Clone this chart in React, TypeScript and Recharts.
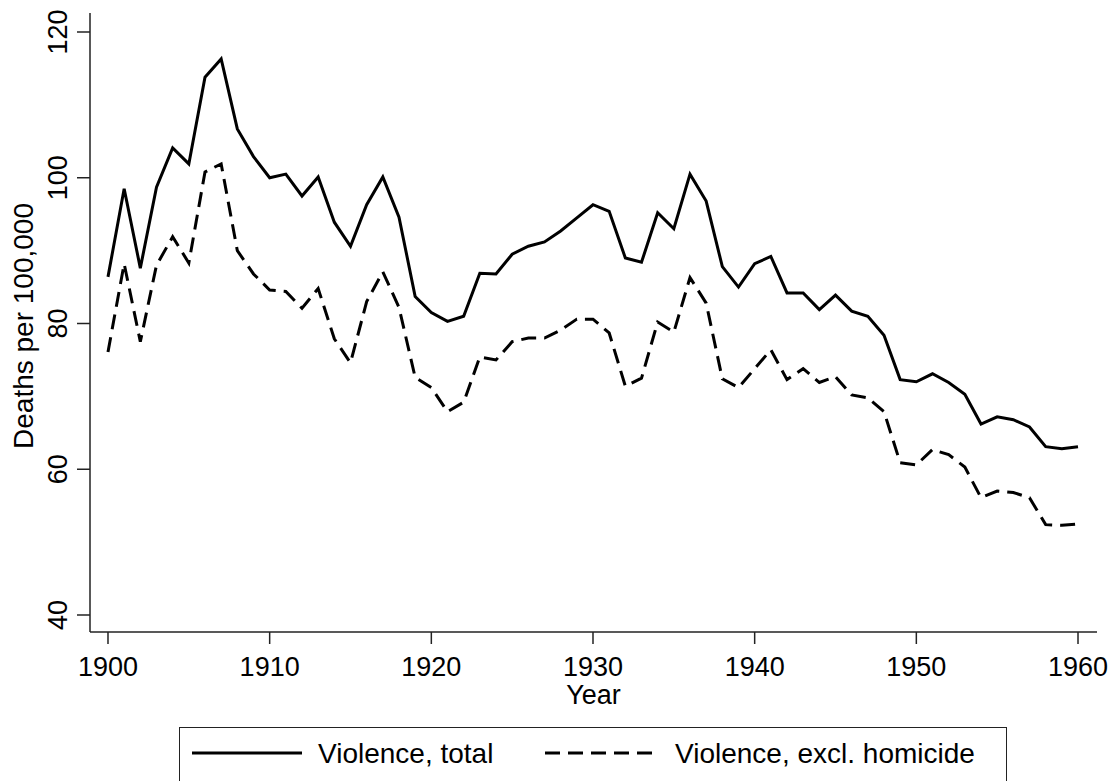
import React from 'react';
import { LineChart, Line, XAxis, YAxis, Label } from 'recharts';

const years = [
  1900, 1901, 1902, 1903, 1904, 1905, 1906, 1907, 1908, 1909,
  1910, 1911, 1912, 1913, 1914, 1915, 1916, 1917, 1918, 1919,
  1920, 1921, 1922, 1923, 1924, 1925, 1926, 1927, 1928, 1929,
  1930, 1931, 1932, 1933, 1934, 1935, 1936, 1937, 1938, 1939,
  1940, 1941, 1942, 1943, 1944, 1945, 1946, 1947, 1948, 1949,
  1950, 1951, 1952, 1953, 1954, 1955, 1956, 1957, 1958, 1959, 1960,
];

const violenceTotal = [
  86.4, 98.5, 87.6, 98.7, 104.1, 101.9, 113.8, 116.3, 106.7, 102.9,
  100.0, 100.5, 97.5, 100.1, 93.9, 90.6, 96.3, 100.1, 94.6, 83.7,
  81.5, 80.3, 81.0, 86.9, 86.8, 89.5, 90.6, 91.2, 92.7, 94.5,
  96.3, 95.4, 89.0, 88.4, 95.2, 93.0, 100.5, 96.8, 87.8, 85.0,
  88.2, 89.2, 84.2, 84.2, 81.9, 83.9, 81.7, 81.0, 78.4, 72.3,
  72.0, 73.1, 71.9, 70.3, 66.2, 67.2, 66.8, 65.8, 63.1, 62.8, 63.1,
];

const violenceExclHomicide = [
  76.1, 88.2, 77.5, 88.0, 91.9, 88.3, 100.8, 101.9, 90.0, 86.8,
  84.6, 84.4, 82.1, 84.8, 77.9, 74.6, 83.0, 87.1, 82.2, 72.6,
  71.2, 67.9, 69.2, 75.4, 75.0, 77.5, 78.0, 78.0, 79.1, 80.6,
  80.6, 78.7, 71.4, 72.5, 80.2, 78.8, 86.3, 82.8, 72.4, 71.2,
  73.8, 76.4, 72.3, 73.8, 71.9, 72.7, 70.2, 69.8, 67.9, 60.9,
  60.6, 62.7, 62.0, 60.3, 56.1, 57.0, 56.8, 56.1, 52.4, 52.3, 52.5,
];

const xTicks = [1900, 1910, 1920, 1930, 1940, 1950, 1960];
const yTicks = [40, 60, 80, 100, 120];

const data = years.map((year, i) => ({
  year,
  total: violenceTotal[i],
  excl: violenceExclHomicide[i],
}));

const FONT = '"Liberation Sans", Arial, sans-serif';
const AXIS = '#222';
const DASH = '15 8';

const XTick = (props: any) => {
  const { x, y, payload } = props;
  return (
    <text x={x} y={y + 32} textAnchor="middle" fontFamily={FONT} fontSize={27} fill="#000">
      {payload.value}
    </text>
  );
};

const YTick = (props: any) => {
  const { y, payload } = props;
  return (
    <text
      x={67}
      y={y}
      transform={`rotate(-90 67 ${y})`}
      textAnchor="middle"
      fontFamily={FONT}
      fontSize={27}
      fill="#000"
    >
      {payload.value}
    </text>
  );
};

export default function App() {
  return (
    <div style={{ position: 'absolute', left: 0, top: 0, width: 1120, height: 781, background: '#fff' }}>
      <LineChart
        width={1120}
        height={781}
        data={data}
        margin={{ top: 13, right: 23, bottom: 0, left: 0 }}
      >
        <XAxis
          dataKey="year"
          type="number"
          domain={[1898.887, 1961.175]}
          allowDataOverflow
          ticks={xTicks}
          tickSize={12}
          tickMargin={0}
          height={149}
          stroke={AXIS}
          strokeWidth={1.5}
          tick={<XTick />}
        >
          <Label
            content={() => (
              <text x={593.5} y={704} textAnchor="middle" fontFamily={FONT} fontSize={27} fill="#000">
                Year
              </text>
            )}
          />
        </XAxis>
        <YAxis
          type="number"
          domain={[37.667, 122.607]}
          allowDataOverflow
          ticks={yTicks}
          tickSize={13}
          width={90}
          stroke={AXIS}
          strokeWidth={1.5}
          tick={<YTick />}
        >
          <Label
            content={() => (
              <text
                x={33}
                y={326}
                transform="rotate(-90 33 326)"
                textAnchor="middle"
                fontFamily={FONT}
                fontSize={28}
                fill="#000"
              >
                Deaths per 100,000
              </text>
            )}
          />
        </YAxis>
        <Line
          dataKey="total"
          type="linear"
          stroke="#000"
          strokeWidth={3}
          dot={false}
          isAnimationActive={false}
        />
        <Line
          dataKey="excl"
          type="linear"
          stroke="#000"
          strokeWidth={3}
          strokeDasharray={DASH}
          dot={false}
          isAnimationActive={false}
        />
      </LineChart>
      <div
        style={{
          position: 'absolute',
          left: 179,
          top: 727,
          width: 828,
          height: 60,
          border: `1.5px solid ${AXIS}`,
          boxSizing: 'border-box',
        }}
      />
      <svg
        width={1120}
        height={781}
        style={{ position: 'absolute', left: 0, top: 0, pointerEvents: 'none' }}
      >
        <line x1={192} y1={753} x2={302} y2={753} stroke="#000" strokeWidth={3} />
        <text x={318} y={763} fontFamily={FONT} fontSize={28} fill="#000">
          Violence, total
        </text>
        <line x1={545} y1={753} x2={657} y2={753} stroke="#000" strokeWidth={3} strokeDasharray={DASH} />
        <text x={675} y={763} fontFamily={FONT} fontSize={28} fill="#000">
          Violence, excl. homicide
        </text>
      </svg>
    </div>
  );
}
